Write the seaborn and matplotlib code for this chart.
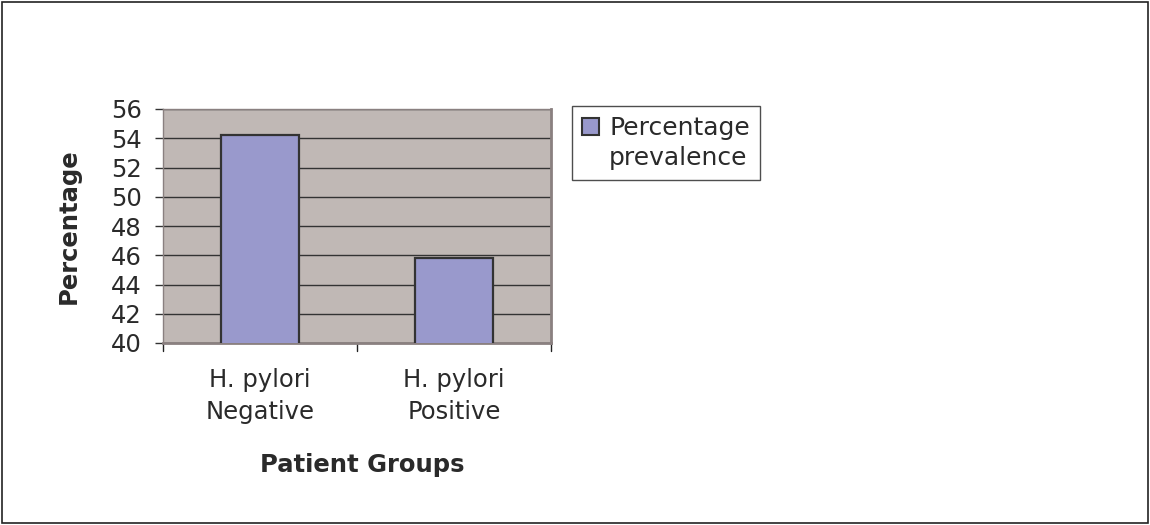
import matplotlib
matplotlib.use("Agg")
import matplotlib.pyplot as plt
import seaborn as sns
import pandas as pd
from matplotlib.patches import Rectangle, Patch

groups = ["H. pylori\nNegative", "H. pylori\nPositive"]
values = [54.2, 45.8]
series_lines = ["Percentage", "prevalence"]
yticks = [40, 42, 44, 46, 48, 50, 52, 54, 56]

df = pd.DataFrame({"group": groups, "value": values})

sns.set_theme(style="white")
plt.rcParams['font.family'] = ['DejaVu Sans']

fig = plt.figure(figsize=(11.5, 5.25), dpi=100)
ax = fig.add_axes([163/1150, 1-343/525, (551-163)/1150, (343-109)/525])
ax.set_facecolor("#C0B8B5")

sns.barplot(data=df, x="group", y="value", color="#9999CC", width=0.40,
            edgecolor="#333333", linewidth=1.6, saturation=1, ax=ax, zorder=3)

ax.set_ylim(40, 56)
ax.set_yticks(yticks)
ax.set_yticklabels([str(t) for t in yticks], fontsize=17.5, color="#2a2a2a")
ax.yaxis.grid(True, color="#333333", linewidth=1, zorder=0)
ax.set_axisbelow(True)
ax.tick_params(axis="y", direction="out", length=6, width=1, color="#333333", pad=9.4, left=True)
ax.tick_params(axis="x", length=0, pad=18, labelsize=17.5, labelcolor="#2a2a2a")
for lbl in ax.get_xticklabels():
    lbl.set_linespacing(1.4)
# x tick marks at category boundaries
for xb in [-0.5, 0.5, 1.5]:
    ax.plot([xb, xb], [0, -0.034], transform=ax.get_xaxis_transform(), clip_on=False,
            color="#222222", linewidth=1)
ax.set_xlim(-0.5, 1.5)

for side in ["left", "top"]:
    ax.spines[side].set_color("#8a8080")
    ax.spines[side].set_linewidth(1)
for side in ["right", "bottom"]:
    ax.spines[side].set_color("#8a8080")
    ax.spines[side].set_linewidth(2)

ax.set_xlabel("Patient Groups", fontsize=17.5, fontweight="bold", color="#2a2a2a")
ax.xaxis.set_label_coords((362-163)/388, (343-453)/234)
ax.set_ylabel("Percentage", fontsize=17.5, fontweight="bold", color="#2a2a2a", va="center")
ax.yaxis.set_label_coords((69-163)/388, 0.5)

handles = [Patch(facecolor="#9999CC", edgecolor="#333333", linewidth=1.5),
           Patch(facecolor="none", edgecolor="none")]
leg = fig.legend(handles, series_lines, loc="upper left",
                 bbox_to_anchor=(572/1150, 1-106/525), frameon=True, fancybox=False,
                 fontsize=18, handlelength=0.68, handleheight=0.68, handletextpad=0.4,
                 borderpad=0.4, labelspacing=0.22, borderaxespad=0)
leg.get_frame().set_edgecolor("#222222")
leg.get_frame().set_linewidth(1)
for t in leg.get_texts():
    t.set_color("#2a2a2a")

fig.patches.append(Rectangle((2/1150, 2/525), 1-4/1150, 1-4/525, transform=fig.transFigure,
                             fill=False, edgecolor="#222222", linewidth=1.2))

fig.savefig("out.png", dpi=100, facecolor="white")
